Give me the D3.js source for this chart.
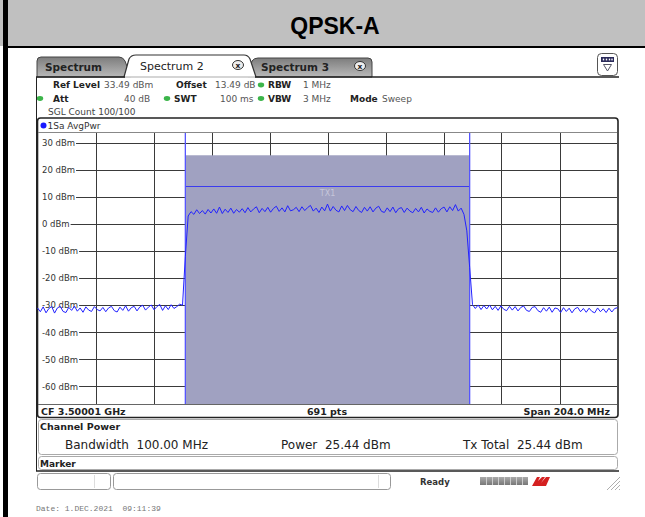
<!DOCTYPE html>
<html><head><meta charset="utf-8">
<script src="https://cdn.jsdelivr.net/npm/d3@7"></script>
<style>
body{margin:0;background:#fff}
svg{display:block}
text{font-family:"DejaVu Sans",sans-serif}
</style>
</head><body>
<svg id="c" width="645" height="517"></svg>
<script>
// ---------------- data ----------------
const chartTitle = "QPSK-A";
const yTickValues = [30, 20, 10, 0, -10, -20, -30, -40, -50, -60];
const refLevel = 33.49;          // dBm (top of grid)
const rangeDb = 100;             // dB shown
const spanMHz = 204;             // span around CF
const channelBandwidthMHz = 100;
const channelPowerDbm = 25.44;
const channelBarDbm = 13.9;
const traceStartMHz = -102;
const traceStepMHz = 1;
// trace levels (dBm), left out-of-band: -102 .. -51 MHz
const traceLeft = [-31.0,-32.4,-30.6,-32.8,-31.2,-30.5,-32.9,-31.0,-30.4,-32.3,
  -32.7,-30.8,-31.9,-30.3,-32.2,-31.0,-32.6,-30.6,-31.8,-32.3,
  -30.5,-31.6,-32.1,-30.8,-32.4,-31.0,-30.4,-32.0,-32.5,-30.7,
  -31.9,-30.2,-32.2,-30.9,-30.4,-32.1,-30.6,-30.0,-31.8,-30.7,
  -29.9,-31.7,-30.5,-29.7,-31.9,-30.2,-31.6,-29.8,-31.2,-30.5,
  -29.6,-30.0];
// in-band: -50 .. 50 MHz
const traceBand = [-12, 3.0, 4.6, 3.6, 5.3, 3.9, 5.0, 3.7, 5.4, 4.1,
  5.6, 4.0, 6.3, 3.9, 5.5, 4.3, 5.9, 4.0, 5.4, 4.4,
  5.7, 4.2, 6.1, 4.5, 5.6, 6.4, 4.2, 5.8, 4.6, 6.2,
  4.4, 5.8, 6.6, 4.7, 6.0, 4.5, 6.8, 4.9, 5.3, 6.2,
  4.6, 6.4, 5.0, 6.1, 6.9, 4.8, 5.9, 4.3, 6.3, 4.9,
  7.4, 4.8, 6.5, 5.1, 4.5, 6.7, 5.0, 6.9, 5.3, 4.6,
  6.5, 5.0, 4.3, 6.2, 4.8, 6.4, 4.5, 5.9, 6.6, 4.7,
  4.3, 6.0, 4.6, 6.3, 4.2, 5.7, 6.1, 4.3, 5.9, 4.8,
  4.2, 5.8, 4.5, 6.2, 4.1, 5.6, 4.7, 4.3, 6.0, 4.4,
  5.7, 6.3, 4.5, 6.4, 5.0, 7.2, 4.8, 5.9, 3.6, -2.5,
  -16];
// right out-of-band: 51 .. 102 MHz
const traceRight = [-29.8,-31.2,-29.9,-31.6,-30.1,-31.4,-29.9,-31.7,-30.4,-31.9,
  -30.2,-31.5,-32.0,-30.4,-31.8,-30.5,-32.1,-30.8,-30.3,-31.9,
  -32.3,-30.8,-30.5,-32.0,-32.6,-30.9,-32.2,-30.7,-32.6,-31.0,
  -31.3,-32.7,-30.9,-32.3,-31.1,-32.8,-31.3,-30.8,-32.4,-31.2,
  -32.6,-31.1,-32.3,-32.8,-31.0,-32.4,-31.3,-32.7,-31.1,-32.5,
  -31.2,-30.9];

const infoRow1 = [["Ref Level", "33.49 dBm"], ["Offset", "13.49 dB"], ["RBW", "1 MHz"]];
const infoRow2 = [["Att", "40 dB"], ["SWT", "100 ms"], ["VBW", "3 MHz"], ["Mode", "Sweep"]];

// ---------------- drawing ----------------
const svg = d3.select("#c");
const trace = traceLeft.concat(traceBand, traceRight)
  .map((v, i) => ({f: traceStartMHz + i * traceStepMHz, v}));

// title bar
svg.append("rect").attr("x", 0).attr("y", 0).attr("width", 645).attr("height", 46).attr("fill", "#c0c0c0");
svg.append("rect").attr("x", 3).attr("y", 46).attr("width", 642).attr("height", 2).attr("fill", "#000");
svg.append("rect").attr("x", 3).attr("y", 0).attr("width", 5).attr("height", 517).attr("fill", "#000");
svg.append("text").attr("x", 335).attr("y", 34).attr("text-anchor", "middle")
  .style("font-family", "'Liberation Sans', Arial, sans-serif").style("font-weight", "bold")
  .style("font-size", "23px").attr("fill", "#000").text(chartTitle);

// gradients
const defs = svg.append("defs");
const gr = defs.append("linearGradient").attr("id", "tabg").attr("x1", 0).attr("y1", 0).attr("x2", 0).attr("y2", 1);
gr.append("stop").attr("offset", "0%").attr("stop-color", "#7d7d7d");
gr.append("stop").attr("offset", "100%").attr("stop-color", "#b9b9b9");
const pg = defs.append("linearGradient").attr("id", "prog").attr("x1", 0).attr("y1", 0).attr("x2", 0).attr("y2", 1);
pg.append("stop").attr("offset", "0%").attr("stop-color", "#aaa");
pg.append("stop").attr("offset", "100%").attr("stop-color", "#777");

// tabs
svg.append("path").attr("d", "M37,77 L37,61 Q37,57 41,57 L119,57 Q123,57 125,61 L131,77 Z")
  .attr("fill", "url(#tabg)").attr("stroke", "#444").attr("stroke-width", 1);
svg.append("path").attr("d", "M248,77 L252,61 Q254,58 258,58 L368,58 Q372,58 372,62 L372,77 Z")
  .attr("fill", "url(#tabg)").attr("stroke", "#444").attr("stroke-width", 1);
svg.append("path").attr("d", "M124,77 L129,59 Q131,55 136,55 L244,55 Q248,55 250,59 L256,77")
  .attr("fill", "#fff").attr("stroke", "#333").attr("stroke-width", 1.2);
svg.append("text").attr("x", 45).attr("y", 71).style("font-weight", "bold").style("font-size", "10.5px").attr("fill", "#222").text("Spectrum");
svg.append("text").attr("x", 140).attr("y", 70).style("font-size", "11px").attr("fill", "#222").text("Spectrum 2");
svg.append("text").attr("x", 261).attr("y", 71).style("font-weight", "bold").style("font-size", "10.5px").attr("fill", "#222").text("Spectrum 3");
[[238, 65], [360, 66]].forEach(([cx, cy]) => {
  svg.append("ellipse").attr("cx", cx).attr("cy", cy).attr("rx", 5.5).attr("ry", 4.5).attr("fill", "#eee").attr("stroke", "#333").attr("stroke-width", 1);
  svg.append("text").attr("x", cx).attr("y", cy + 3).attr("text-anchor", "middle").style("font-size", "7.5px").style("font-weight", "bold").attr("fill", "#222").text("x");
});
svg.append("line").attr("x1", 36).attr("x2", 619).attr("y1", 77).attr("y2", 77).attr("stroke", "#222").attr("stroke-width", 1.5);
svg.append("line").attr("x1", 125).attr("x2", 255).attr("y1", 77).attr("y2", 77).attr("stroke", "#fff").attr("stroke-width", 1.6);

// top-right icon
svg.append("rect").attr("x", 597.5).attr("y", 53.5).attr("width", 20).attr("height", 22).attr("rx", 4)
  .attr("fill", "#fff").attr("stroke", "#555").attr("stroke-width", 1);
svg.append("rect").attr("x", 601).attr("y", 57).attr("width", 13).attr("height", 5).attr("fill", "#2a2a5a");
[603.5, 606.5, 609.5, 612].forEach(cx => svg.append("rect").attr("x", cx - 0.7).attr("y", 58.6).attr("width", 1.4).attr("height", 1.8).attr("fill", "#fff"));
svg.append("path").attr("d", "M603.5,64.5 L611.5,64.5 L607.5,71 Z").attr("fill", "#fff").attr("stroke", "#556").attr("stroke-width", 1);

// info rows
function info(x, y, label, value, vx) {
  svg.append("text").attr("x", x).attr("y", y).style("font-weight", "bold").style("font-size", "9px").attr("fill", "#222").text(label);
  svg.append("text").attr("x", vx).attr("y", y).style("font-size", "9px").attr("fill", "#555").text(value);
}
function dot(cx, cy) {
  svg.append("ellipse").attr("cx", cx).attr("cy", cy).attr("rx", 3.2).attr("ry", 2.4).attr("fill", "#3cb54a");
}
info(53, 88, infoRow1[0][0], infoRow1[0][1], 104);
info(176, 88, infoRow1[1][0], infoRow1[1][1], 215);
dot(261, 85); info(268, 88, infoRow1[2][0], infoRow1[2][1], 303);
dot(40, 98.5); info(53, 101.5, infoRow2[0][0], infoRow2[0][1], 124);
dot(167, 98.5); info(174, 101.5, infoRow2[1][0], infoRow2[1][1], 220);
dot(261, 98.5); info(268, 101.5, infoRow2[2][0], infoRow2[2][1], 303);
info(350, 101.5, infoRow2[3][0], infoRow2[3][1], 382);
svg.append("text").attr("x", 48).attr("y", 115).style("font-size", "9px").attr("fill", "#444").text("SGL Count 100/100");

// window outer edges
svg.append("line").attr("x1", 36.5).attr("x2", 36.5).attr("y1", 77).attr("y2", 471).attr("stroke", "#222").attr("stroke-width", 1);
svg.append("line").attr("x1", 36).attr("x2", 619).attr("y1", 471).attr("y2", 471).attr("stroke", "#222").attr("stroke-width", 1.5);

// plot frame
svg.append("rect").attr("x", 37.5).attr("y", 118).attr("width", 580.5).attr("height", 299.5).attr("rx", 3)
  .attr("fill", "#fff").attr("stroke", "#222").attr("stroke-width", 1.6);
svg.append("line").attr("x1", 38).attr("x2", 617).attr("y1", 132.5).attr("y2", 132.5).attr("stroke", "#888").attr("stroke-width", 1);
svg.append("circle").attr("cx", 43.5).attr("cy", 125.5).attr("r", 3).attr("fill", "#1a1aff");
svg.append("text").attr("x", 47.5).attr("y", 129).style("font-size", "9px").attr("fill", "#333").text("1Sa AvgPwr");

// scales
const x = d3.scaleLinear().domain([-spanMHz / 2, spanMHz / 2]).range([37.5, 617.5]);
const y = d3.scaleLinear().domain([refLevel - rangeDb, refLevel]).range([404, 133.5]);
const plotTop = 133, plotBottom = y(refLevel - rangeDb);

// vertical grid
const vGrid = d3.range(1, 10).map(k => -spanMHz / 2 + k * spanMHz / 10);
svg.append("g").selectAll("line").data(vGrid).join("line")
  .attr("x1", d => Math.round(x(d)) + 0.5).attr("x2", d => Math.round(x(d)) + 0.5)
  .attr("y1", plotTop).attr("y2", plotBottom).attr("stroke", "#3a3a3a").attr("stroke-width", 1);

// y axis labels
const ax = svg.append("g").attr("transform", "translate(40,0)")
  .call(d3.axisRight(y).tickValues(yTickValues).tickSize(0).tickPadding(2).tickFormat(d => d + " dBm"));
ax.select(".domain").remove();
ax.selectAll("text").style("font-family", "'DejaVu Sans',sans-serif").style("font-size", "8.5px").attr("fill", "#333");
const labelEnds = {};
ax.selectAll(".tick").each(function (d) {
  const t = d3.select(this).select("text").node();
  labelEnds[d] = 40 + 2 + t.getComputedTextLength() + 1;
});
svg.append("g").selectAll("line").data(yTickValues).join("line")
  .attr("x1", d => labelEnds[d]).attr("x2", 617)
  .attr("y1", d => Math.round(y(d)) + 0.5).attr("y2", d => Math.round(y(d)) + 0.5)
  .attr("stroke", "#3a3a3a").attr("stroke-width", 1);
ax.raise();

// channel shading
const chL = x(-channelBandwidthMHz / 2), chR = x(channelBandwidthMHz / 2);
svg.append("rect").attr("x", chL).attr("y", y(channelPowerDbm)).attr("width", chR - chL)
  .attr("height", plotBottom - y(channelPowerDbm)).attr("fill", "#a0a1c1");
svg.append("line").attr("x1", chL).attr("x2", chR).attr("y1", y(channelBarDbm)).attr("y2", y(channelBarDbm))
  .attr("stroke", "#3b3bee").attr("stroke-width", 1.2);
[chL, chR].forEach(cx => svg.append("line").attr("x1", cx).attr("x2", cx).attr("y1", plotTop).attr("y2", plotBottom)
  .attr("stroke", "#5555ff").attr("stroke-width", 1.3));
svg.append("text").attr("x", x(0)).attr("y", y(channelBarDbm) + 10).attr("text-anchor", "middle")
  .style("font-size", "8px").attr("fill", "#c6c6da").text("TX1");

// trace
svg.append("path").datum(trace)
  .attr("d", d3.line().x(d => x(d.f)).y(d => y(d.v)))
  .attr("fill", "none").attr("stroke", "#2222ff").attr("stroke-width", 1);

// plot bottom border + footer
svg.append("line").attr("x1", 38).attr("x2", 617).attr("y1", plotBottom + 0.5).attr("y2", plotBottom + 0.5).attr("stroke", "#666").attr("stroke-width", 1);
svg.append("text").attr("x", 41).attr("y", 415).style("font-weight", "bold").style("font-size", "9.5px").attr("fill", "#222").text("CF 3.50001 GHz");
svg.append("text").attr("x", 327).attr("y", 415).attr("text-anchor", "middle").style("font-weight", "bold").style("font-size", "9.5px").attr("fill", "#222").text("691 pts");
svg.append("text").attr("x", 610).attr("y", 415).attr("text-anchor", "end").style("font-weight", "bold").style("font-size", "9.5px").attr("fill", "#222").text("Span 204.0 MHz");

// channel power panel
svg.append("rect").attr("x", 38.5).attr("y", 419.5).attr("width", 579).attr("height", 35).attr("rx", 3)
  .attr("fill", "#fff").attr("stroke", "#aaa").attr("stroke-width", 1);
svg.append("text").attr("x", 40).attr("y", 430).style("font-weight", "bold").style("font-size", "9.5px").attr("fill", "#222").text("Channel Power");
svg.append("text").attr("x", 65).attr("y", 448.5).style("font-size", "12px").attr("fill", "#222").attr("xml:space", "preserve").text("Bandwidth  100.00 MHz");
svg.append("text").attr("x", 281).attr("y", 448.5).style("font-size", "12px").attr("fill", "#222").attr("xml:space", "preserve").text("Power  25.44 dBm");
svg.append("text").attr("x", 463).attr("y", 448.5).style("font-size", "12px").attr("fill", "#222").attr("xml:space", "preserve").text("Tx Total  25.44 dBm");
svg.append("rect").attr("x", 38.5).attr("y", 456.5).attr("width", 579).attr("height", 13).attr("rx", 3)
  .attr("fill", "#fff").attr("stroke", "#aaa").attr("stroke-width", 1);
svg.append("text").attr("x", 40).attr("y", 466.5).style("font-weight", "bold").style("font-size", "9px").attr("fill", "#222").text("Marker");

// status bar
svg.append("rect").attr("x", 37.5).attr("y", 473.5).attr("width", 73).attr("height", 16).attr("rx", 3).attr("fill", "#fff").attr("stroke", "#999");
svg.append("line").attr("x1", 94.5).attr("x2", 94.5).attr("y1", 475).attr("y2", 488).attr("stroke", "#ddd");
svg.append("rect").attr("x", 113.5).attr("y", 473.5).attr("width", 277).attr("height", 16).attr("rx", 3).attr("fill", "#fff").attr("stroke", "#999");
svg.append("line").attr("x1", 378.5).attr("x2", 378.5).attr("y1", 475).attr("y2", 488).attr("stroke", "#ddd");
svg.append("text").attr("x", 420).attr("y", 484.5).style("font-weight", "bold").style("font-size", "8.5px").attr("fill", "#333").text("Ready");
svg.append("rect").attr("x", 480).attr("y", 477).attr("width", 48).attr("height", 8).attr("fill", "url(#prog)");
d3.range(1, 8).forEach(k => svg.append("line").attr("x1", 480 + k * 6 + 0.5).attr("x2", 480 + k * 6 + 0.5).attr("y1", 477).attr("y2", 485).attr("stroke", "#ccc"));
svg.append("path").attr("d", "M532,486 L537,477 L540,477 L538,481 L542,477 L545,477 L541,483 L546,477 L550,477 L546,486 Z").attr("fill", "#d42020");
[0, 4, 8, 12].forEach(k => svg.append("line").attr("x1", 607 + k).attr("y1", 490).attr("x2", 620).attr("y2", 477 + k).attr("stroke", "#999").attr("stroke-width", 0.8));

// date
svg.append("text").attr("x", 36).attr("y", 511).style("font-family", "'Liberation Mono', monospace").style("font-size", "8px")
  .attr("fill", "#777").attr("xml:space", "preserve").text("Date: 1.DEC.2021  09:11:39");
</script>
</body></html>
